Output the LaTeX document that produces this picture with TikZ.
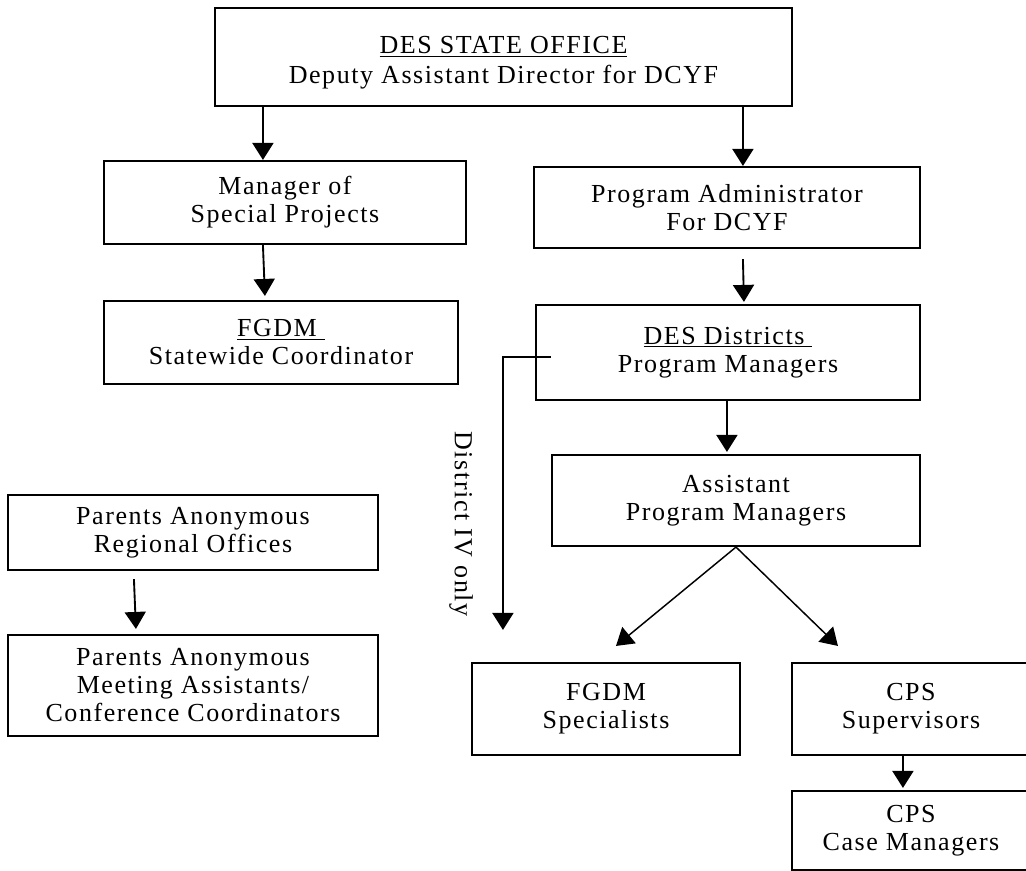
\documentclass[tikz,border=0pt]{standalone}
\usepackage{fontspec}
\setmainfont{Liberation Serif}[LetterSpace=6.0]
\usetikzlibrary{arrows.meta,calc}
\newcommand{\boxfont}{\fontsize{19.5pt}{21pt}\selectfont}
\tikzset{
  box/.style 2 args={draw, line width=1.6pt, minimum width=#1*0.75pt,
    minimum height=#2*0.75pt, inner sep=0pt, align=center, font=\boxfont},
  boxtext/.style={inner sep=0pt, align=center, font=\boxfont},
  arr/.style={line width=1.4pt, -{Triangle[width=15.75pt,length=12.75pt]}},
  darr/.style={line width=1.1pt, -{Triangle[width=15.75pt,length=12.75pt]}}
}
\begin{document}
\begin{tikzpicture}[x=0.75pt,y=-0.75pt]
\useasboundingbox (0,0) rectangle (1026,871);
\clip (0,0) rectangle (1026,871);
% nodes
\node[box={577}{98}] (top) at (503.5,57) {};
\node[boxtext] (toptext) at ($(top.center)+(0,6)$) {\underline{DES STATE OFFICE}\\[1.5pt]Deputy Assistant Director for DCYF};
\node[box={362}{83}] (mgr) at (285,202.5) {Manager of\\Special Projects};
\node[box={354}{83}] (fgc) at (281,342.5) {\underline{FGDM\ }\\Statewide Coordinator};
\node[box={386}{81}] (pad) at (727,207.5) {Program Administrator\\For DCYF};
\node[box={384}{95}] (des) at (728,352.5) {\underline{DES Districts\ }\\Program Managers};
\node[box={368}{91}] (apm) at (736,500.5) {Assistant\\Program Managers};
\node[box={268}{92}] (fsp) at (606,709) {FGDM\\Specialists};
\node[box={238}{92}] (cpss) at (911,709) {CPS\\Supervisors};
\node[box={238}{79}] (cpsc) at (911,830.5) {CPS\\Case Managers};
\node[box={370}{75}] (par) at (193,532.5) {Parents Anonymous\\Regional Offices};
\node[box={370}{101}] (pam) at (193,685.5) {Parents Anonymous\\Meeting Assistants/\\Conference Coordinators};
\node[font=\boxfont, rotate=-90] (dlabel) at (461,524) {District IV only};
% connectors
\draw[arr] ($(top.south west)+(49,0)$) -- ($(mgr.north west)+(160,0)$);
\draw[arr] ($(top.south west)+(529,0)$) -- ($(pad.north west)+(210,0)$);
\draw[arr] ($(mgr.south west)+(160,0)$) -- ($(fgc.north west)+(162,-4)$);
\draw[arr] ($(pad.south west)+(210,10)$) -- ($(des.north west)+(209,-2)$);
\draw[arr] ($(des.south west)+(192,-2)$) -- ($(apm.north west)+(176,-2)$);
\draw[darr] (apm.south) -- ($(fsp.north west)+(145,-16)$);
\draw[darr] (apm.south) -- ($(cpss.north west)+(47,-16)$);
\draw[arr] ($(cpss.south west)+(112,0)$) -- ($(cpsc.north west)+(112,-2)$);
\draw[arr] ($(des.west)+(16,4.5)$) -| ($(fsp.north west)+(32,-32)$);
\draw[arr] ($(par.south west)+(127,8)$) -- ($(pam.north west)+(129,-5)$);
\end{tikzpicture}
\end{document}
